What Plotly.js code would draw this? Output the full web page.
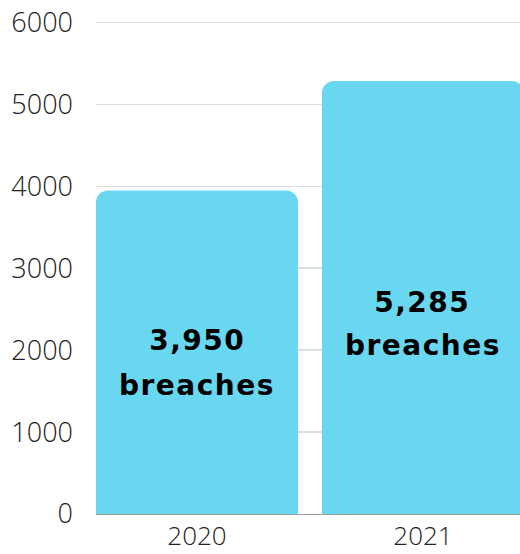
<!DOCTYPE html>
<html>
<head>
<meta charset="utf-8">
<script src="https://cdn.plot.ly/plotly-3.0.1.min.js"></script>
<style>
html,body{margin:0;padding:0;overflow:hidden;background:#fff;}
#chart{width:524px;height:554px;}
#err{position:absolute;top:0;left:0;color:red;font:12px sans-serif;}
</style>
</head>
<body>
<div id="chart"></div>
<div id="err"></div>
<script>
const categories = ['2020', '2021'];
const breaches = [3950, 5285];
const valueLabels = ['3,950', '5,285'];
const unitLabel = 'breaches';
const yTicks = [0, 1000, 2000, 3000, 4000, 5000, 6000];

// styling offsets (pixels) for the two text lines inside each bar
const valueShift = [12, -5];
const unitShift = [-33, -48];

const trace = {
  type: 'bar',
  x: categories,
  y: breaches,
  marker: {color: '#69d7f0', cornerradius: 12},
  hoverinfo: 'none'
};

const labelFont = {family: 'DejaVu Sans', size: 28, color: '#000000'};
const annotations = [];
categories.forEach((c, i) => {
  annotations.push({
    x: i, y: breaches[i] / 2, xref: 'x', yref: 'y',
    text: '<b>' + valueLabels[i] + '</b>', showarrow: false, yshift: valueShift[i],
    font: labelFont, align: 'center'
  });
  annotations.push({
    x: i, y: breaches[i] / 2, xref: 'x', yref: 'y',
    text: '<b>' + unitLabel + '</b>', showarrow: false, yshift: unitShift[i],
    font: labelFont, align: 'center'
  });
});

const yTickFont = {family: 'Open Sans', size: 27, color: '#222', weight: 300};
const xTickFont = {family: 'Open Sans', size: 26, color: '#222', weight: 300};

const layout = {
  width: 524, height: 554,
  margin: {l: 96, r: 0, t: 20, b: 40},
  paper_bgcolor: '#fff', plot_bgcolor: '#fff',
  bargap: 0.106,
  showlegend: false,
  xaxis: {
    type: 'category',
    range: [-0.447, 1.447],
    showgrid: false, zeroline: false, showline: false,
    ticks: '', ticklabelstandoff: 4,
    tickfont: xTickFont
  },
  yaxis: {
    range: [0, 6030],
    tickvals: yTicks,
    ticktext: yTicks.map(String),
    showgrid: true, gridcolor: '#dedede', gridwidth: 1.5,
    zeroline: true, zerolinecolor: '#999999', zerolinewidth: 1,
    showline: false, ticks: '', ticklabelstandoff: 22,
    tickfont: yTickFont
  },
  annotations: annotations
};

try {
  Plotly.newPlot('chart', [trace], layout, {displayModeBar: false, staticPlot: true})
    .then(() => {
      document.querySelectorAll('.annotation-text').forEach(t => t.style.letterSpacing = '1.5px');
    })
    .catch(e => { document.getElementById('err').textContent = String(e); });
} catch (e) { document.getElementById('err').textContent = String(e); }
</script>
</body>
</html>
